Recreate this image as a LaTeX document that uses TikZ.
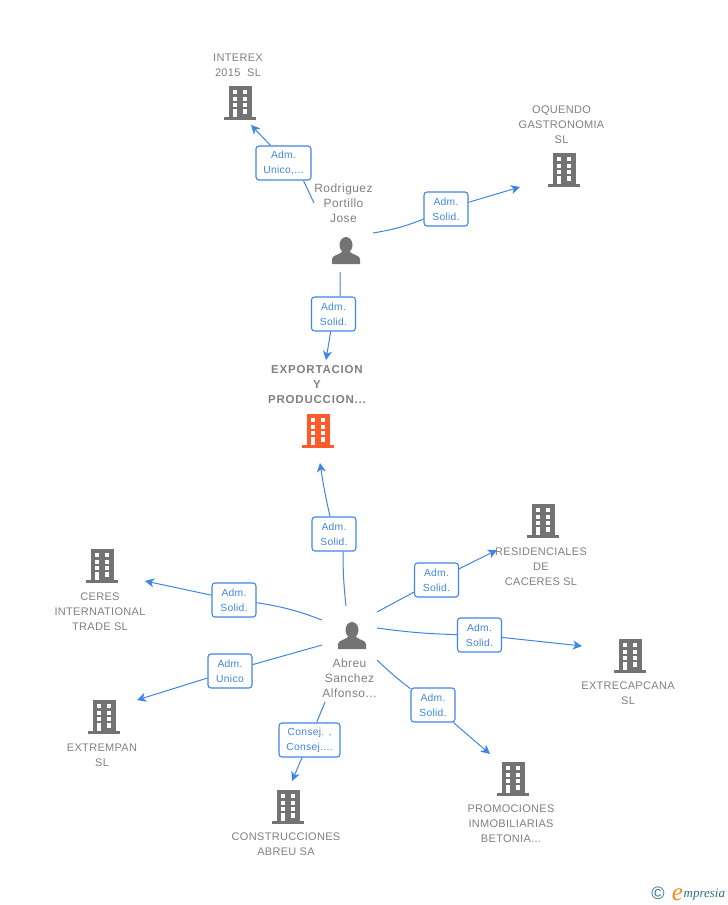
\documentclass[tikz,border=0pt]{standalone}
\usepackage{fontspec}
\setmainfont{Liberation Sans}
\newfontfamily\logofont{Liberation Serif}
\usetikzlibrary{arrows.meta}
\definecolor{lnk}{HTML}{3F86E4}
\definecolor{gtx}{HTML}{808080}
\definecolor{ico}{HTML}{737373}
\definecolor{org}{HTML}{FF5A2B}
\definecolor{tealc}{HTML}{2F6F8F}
\definecolor{orgl}{HTML}{F08A1E}
\tikzset{
  x=1pt,y=-1pt,
  lab/.style={draw=lnk,line width=1.1pt,rounded corners=3pt,fill=white,text=lnk,
    font=\fontsize{10.3}{15}\selectfont\addfontfeature{LetterSpace=3},align=center,inner sep=0pt,minimum height=34pt},
  lw/.style={lab,minimum width=44pt},
  nmtx/.style={text=gtx,font=\fontsize{11}{15}\selectfont\addfontfeature{LetterSpace=2.8},align=center,inner sep=0pt},
  psntx/.style={text=gtx,font=\fontsize{12}{15}\selectfont\addfontfeature{LetterSpace=3.7},align=center,inner sep=0pt},
  boldtx/.style={text=gtx,font=\fontsize{11.5}{15}\selectfont\bfseries\addfontfeature{LetterSpace=7},align=center,inner sep=0pt},
  lnkline/.style={draw=lnk,line width=1pt},
  arr/.style={lnkline,-{Stealth[length=9pt,width=9pt,inset=2.5pt]}},
  pics/bld/.style={code={
    \fill[#1] (-11.5,-17) rectangle (11.5,14);
    \fill[#1] (-16,14) rectangle (16,17);
    \foreach \yy in {-13,-6.5,0}{
      \fill[white] (-7.5,\yy) rectangle (-3,\yy+4.2);
      \fill[white] (2.5,\yy) rectangle (7,\yy+4.2);
    }
    \fill[white] (2.5,6) rectangle (7,11);
    \fill[white] (-7.5,6) rectangle (-3,14);
  }},
  pics/psn/.style={code={
    \fill[ico] (0,-6) ellipse (6.5 and 8);
    \fill[ico] (-14,13) -- (-14,8) .. controls (-14,4) and (-6,4) .. (-3,0) -- (3,0)
      .. controls (6,4) and (14,4) .. (14,8) -- (14,13) -- cycle;
  }}
}
\begin{document}
\begin{tikzpicture}
\useasboundingbox (0,0) rectangle (728,905);
\fill[white] (0,0) rectangle (728,905);
% icons
\pic at (240,103) {bld=ico};
\pic at (564,170) {bld=ico};
\pic at (318,431) {bld=org};
\pic at (543,521) {bld=ico};
\pic at (102,566) {bld=ico};
\pic at (630,656) {bld=ico};
\pic at (104,717) {bld=ico};
\pic at (513,779) {bld=ico};
\pic at (288,807) {bld=ico};
\pic at (346,251) {psn};
\pic at (352,636) {psn};
% names
\node[nmtx] (n1) at (238,65) {INTEREX\\2015\ \ SL};
\node[nmtx] (n2) at (561.5,125) {OQUENDO\\GASTRONOMIA\\SL};
\node[boldtx] (n3) at (317,385) {EXPORTACION\\Y\\PRODUCCION...};
\node[nmtx] (n4) at (541,567) {RESIDENCIALES\\DE\\CACERES SL};
\node[nmtx] (n5) at (100,612) {CERES\\INTERNATIONAL\\TRADE SL};
\node[nmtx] (n6) at (628,693) {EXTRECAPCANA\\SL};
\node[nmtx] (n7) at (102,755) {EXTREMPAN\\SL};
\node[nmtx] (n8) at (511,824) {PROMOCIONES\\INMOBILIARIAS\\BETONIA...};
\node[nmtx] (n9) at (286,844) {CONSTRUCCIONES\\ABREU SA};
\node[psntx] (p1) at (343.5,203) {Rodriguez\\Portillo\\Jose};
\node[psntx] (p2) at (349.5,678) {Abreu\\Sanchez\\Alfonso...};
% labels
\node[lab,minimum width=55pt] (l1) at (283.5,163) {Adm.\\Unico,...};
\node[lw] (l2) at (446,209) {Adm.\\Solid.};
\node[lw] (l3) at (333.5,314) {Adm.\\Solid.};
\node[lw] (l4) at (334,534) {Adm.\\Solid.};
\node[lw] (l5) at (436.5,580) {Adm.\\Solid.};
\node[lw] (l6) at (234,600) {Adm.\\Solid.};
\node[lw] (l7) at (479.5,635) {Adm.\\Solid.};
\node[lw] (l8) at (230,671) {Adm.\\Unico};
\node[lab,minimum width=61pt] (l9) at (309.5,740) {Consej. ,\\Consej....};
\node[lw] (l10) at (433,705) {Adm.\\Solid.};
% free ends
\coordinate (s1) at (314,203); \coordinate (e1) at (251,125);
\coordinate (s2) at (373,233); \coordinate (e2) at (520,187);
\coordinate (s3) at (340,272); \coordinate (e3) at (326,360);
\coordinate (s4) at (346,606); \coordinate (e4) at (320,463);
\coordinate (s5) at (377,612); \coordinate (e5) at (497,550);
\coordinate (s6) at (322,620); \coordinate (e6) at (145,581);
\coordinate (s7) at (377,628); \coordinate (e7) at (582,646);
\coordinate (s8) at (322,645); \coordinate (e8) at (137,700);
\coordinate (s9) at (325,702); \coordinate (e9) at (292,781);
\coordinate (s10) at (377,660); \coordinate (e10) at (490,754);
% connectors
\draw[lnkline] (s1) -- ([xshift=20pt]l1.south); \draw[arr] ([xshift=-13pt]l1.north) -- (e1);
\draw[lnkline] (s2) to[bend right=6] (l2); \draw[arr] (l2) -- (e2);
\draw[lnkline] (s3) to[bend left=2] ([xshift=6.5pt]l3.north); \draw[arr] (l3) -- (e3);
\draw[lnkline] (s4) to[bend left=3] ([xshift=9pt]l4.south); \draw[arr] ([xshift=-4pt]l4.north) to[bend left=2] (e4);
\draw[lnkline] (s5) -- (l5); \draw[arr] (l5) -- (e5);
\draw[lnkline] (s6) to[bend left=-6] (l6); \draw[arr] (l6) -- (e6);
\draw[lnkline] (s7) to[bend left=-3] (l7); \draw[arr] (l7) -- (e7);
\draw[lnkline] (s8) -- (l8); \draw[arr] (l8) -- (e8);
\draw[lnkline] (s9) -- (l9); \draw[arr] (l9) -- (e9);
\draw[lnkline] (s10) to[bend left=-3] (l10); \draw[arr] (l10) -- (e10);
% logo
\node[inner sep=0pt,text=tealc,font=\fontsize{18}{18}\selectfont] (c) at (658,893.5) {©};
\node[inner sep=0pt,text=orgl,font=\logofont\fontsize{25}{25}\selectfont\itshape] (em) at (677.5,895) {e};
\node[inner sep=0pt,text=tealc,font=\logofont\fontsize{13}{13}\selectfont\itshape,anchor=west] (wm) at (683.5,894.5) {mpresia};
\end{tikzpicture}
\end{document}
